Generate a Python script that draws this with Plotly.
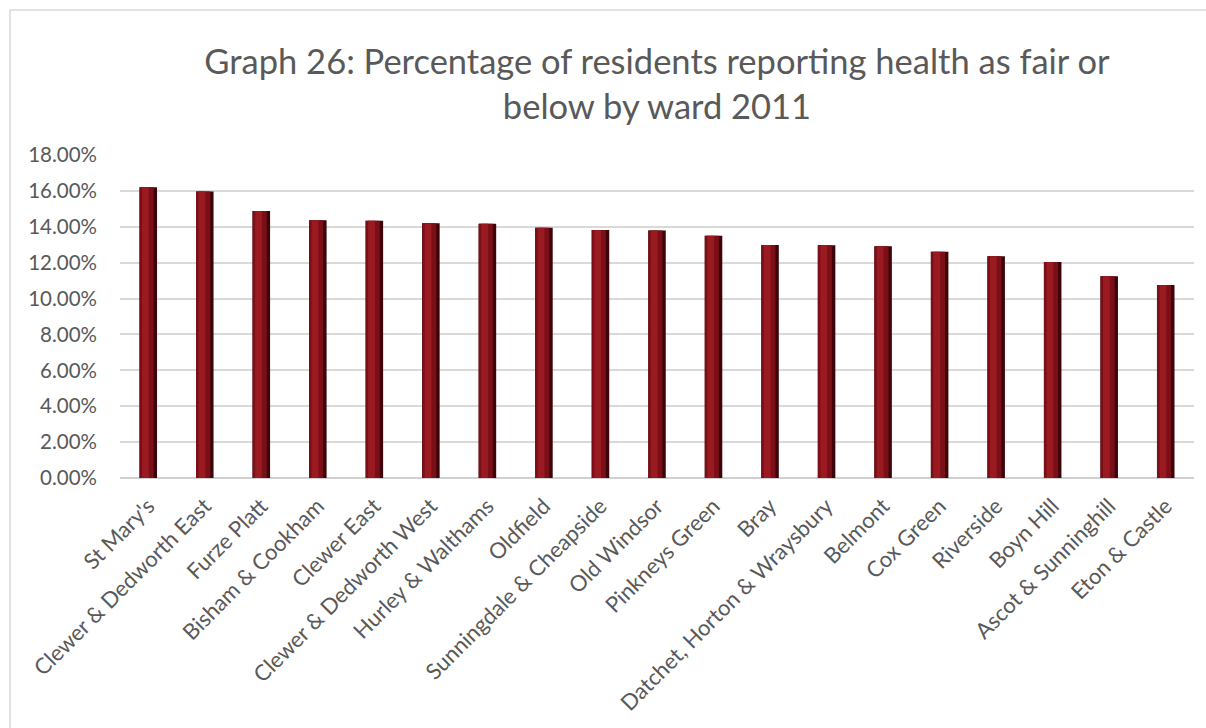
import plotly.graph_objects as go

wards = [
    "St Mary's", "Clewer & Dedworth East", "Furze Platt", "Bisham & Cookham",
    "Clewer East", "Clewer & Dedworth West", "Hurley & Walthams", "Oldfield",
    "Sunningdale & Cheapside", "Old Windsor", "Pinkneys Green", "Bray",
    "Datchet, Horton & Wraysbury", "Belmont", "Cox Green", "Riverside",
    "Boyn Hill", "Ascot & Sunninghill", "Eton & Castle",
]
pct_fair_or_below = [
    0.1620, 0.1596, 0.1488, 0.1436, 0.1434, 0.1420, 0.1417, 0.1394,
    0.1382, 0.1379, 0.1350, 0.1299, 0.1297, 0.1291, 0.1261, 0.1236,
    0.1204, 0.1124, 0.1076,
]
y_ticks = [i / 100 for i in range(0, 20, 2)]

W, H = 1206, 728
L, R, T, B = 120, 12, 155, 250
pw, ph = W - L - R, H - T - B

fig = go.Figure()
# cylinder-style shading: dark base bar, mid body, bright highlight strip
fig.add_bar(x=wards, y=pct_fair_or_below, width=0.31, offset=-0.155,
            marker=dict(color="#3d0509", line=dict(width=0)), hoverinfo="skip")
fig.add_bar(x=wards, y=pct_fair_or_below, width=0.25, offset=-0.155,
            marker=dict(color="#7a0f17", line=dict(width=0)), hoverinfo="skip")
fig.add_bar(x=wards, y=pct_fair_or_below, width=0.12, offset=-0.11,
            marker=dict(color="#9a1a22", line=dict(width=0)),
            hovertemplate="%{x}: %{y:.2%}<extra></extra>")

fig.update_layout(
    width=W, height=H,
    margin=dict(l=L, r=R, t=T, b=B),
    barmode="overlay",
    showlegend=False,
    paper_bgcolor="white",
    plot_bgcolor="white",
    font=dict(family="Lato, Open Sans, sans-serif", color="#595959"),
    title=dict(
        text="Graph 26: Percentage of residents reporting health as fair or<br>below by ward 2011",
        x=0.5, xref="paper", xanchor="center",
        y=1 - 74 / H, yanchor="middle",
        font=dict(size=34.5, color="#595959"),
    ),
    xaxis=dict(
        tickangle=-45, tickfont=dict(size=22, color="#595959"),
        showgrid=False, showline=False, ticks="",
        range=[-0.5, len(wards) - 0.5], ticklabelstandoff=10,
    ),
    yaxis=dict(
        range=[0, 0.18], tickvals=y_ticks, tickformat=".2%",
        tickfont=dict(size=20.5, color="#595959"),
        showgrid=True, gridcolor="#d9d9d9", gridwidth=1.5,
        zeroline=True, zerolinecolor="#d0d0d0", zerolinewidth=1.5,
        showline=False, ticks="", ticklabelstandoff=22,
    ),
    shapes=[dict(
        type="rect", xref="paper", yref="paper",
        x0=(10 - L) / pw, x1=(W + 10 - L) / pw,
        y0=-(H + 10 - T - ph) / ph, y1=(H - 10 - B) / ph,
        line=dict(color="#d9d9d9", width=1.5), fillcolor="rgba(0,0,0,0)",
        layer="below",
    )],
)

fig.write_html("out.html")
